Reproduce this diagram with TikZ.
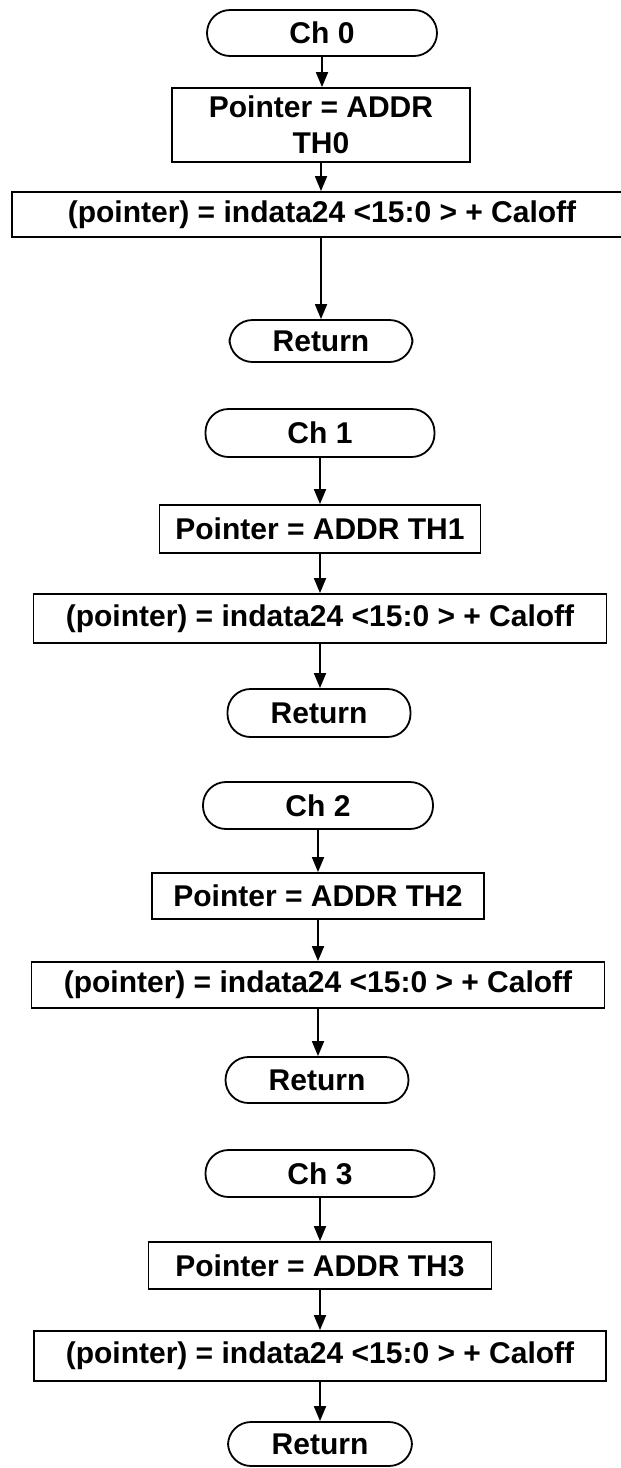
\documentclass[tikz,border=0pt]{standalone}
\usepackage{fontspec}
\setmainfont{Liberation Sans}
\usetikzlibrary{arrows.meta}
\begin{document}
\begin{tikzpicture}[x=0.5pt,y=-0.5pt,
  txt/.style={font=\bfseries\fontsize{15}{18}\selectfont, inner sep=0pt},
  term/.style={txt, draw, line width=0.9pt, rounded corners=11.5pt},
  proc/.style={txt, draw, line width=0.9pt, align=center},
  flow/.style={draw, line width=0.9pt, -{Triangle[length=7.5pt,width=6pt]}}]
\useasboundingbox (0,0) rectangle (621,1468);
\clip (0,0) rectangle (621,1468);
% block 0
\node[term, minimum width=115pt, minimum height=23pt] (c0) at (322,33) {Ch 0};
\node[proc, minimum width=149pt, minimum height=37pt] (b0) at (321,125) {Pointer = ADDR\\TH0};
\node[proc, minimum width=310pt, minimum height=22.5pt] (p0) at (322,214.5) {(pointer) = indata24 <15:0 > + Caloff};
\node[term, minimum width=91.5pt, minimum height=21pt] (r0) at (321,341) {Return};
% block 1
\node[term, minimum width=114.5pt, minimum height=24pt] (c1) at (320,433) {Ch 1};
\node[proc, minimum width=160.5pt, minimum height=24pt] (b1) at (320,529) {Pointer = ADDR TH1};
\node[proc, minimum width=286.5pt, minimum height=24.5pt] (p1) at (320,618.5) {(pointer) = indata24 <15:0 > + Caloff};
\node[term, minimum width=91.5pt, minimum height=24pt] (r1) at (319,713) {Return};
% block 2
\node[term, minimum width=115pt, minimum height=23.5pt] (c2) at (318,805.5) {Ch 2};
\node[proc, minimum width=166pt, minimum height=23pt] (b2) at (318,896) {Pointer = ADDR TH2};
\node[proc, minimum width=286.5pt, minimum height=23pt] (p2) at (318,985) {(pointer) = indata24 <15:0 > + Caloff};
\node[term, minimum width=91.5pt, minimum height=23pt] (r2) at (317,1080) {Return};
% block 3
\node[term, minimum width=114.5pt, minimum height=23.5pt] (c3) at (320,1173.5) {Ch 3};
\node[proc, minimum width=171.5pt, minimum height=23.5pt] (b3) at (320,1265.5) {Pointer = ADDR TH3};
\node[proc, minimum width=286pt, minimum height=25pt] (p3) at (320,1356) {(pointer) = indata24 <15:0 > + Caloff};
\node[term, minimum width=92pt, minimum height=22pt] (r3) at (320,1444) {Return};
% connectors
\foreach \i in {0,1,2,3}{
  \draw[flow] (c\i.south) -- (c\i.south |- b\i.north);
  \draw[flow] (b\i.south) -- (b\i.south |- p\i.north);
  \draw[flow] (b\i.south |- p\i.south) -- (b\i.south |- r\i.north);
}
\end{tikzpicture}
\end{document}
